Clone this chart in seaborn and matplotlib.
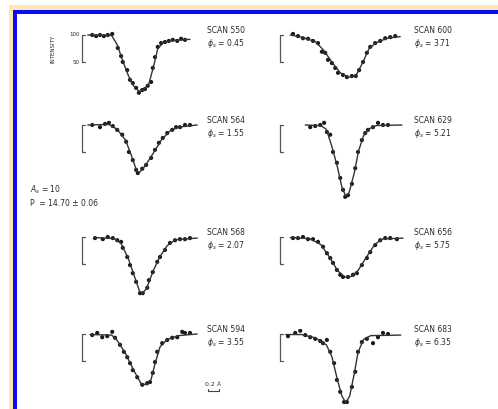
import matplotlib
matplotlib.use("Agg")
import matplotlib.pyplot as plt
from matplotlib.patches import Rectangle
import pandas as pd
import seaborn as sns

# Scan data: wavelength offset (A) and relative intensity
x_550 = [0.40, 0.47, 0.54, 0.61, 0.68, 0.76, 0.86, 0.92, 0.95, 1.03, 1.08, 1.13, 1.19, 1.24,
         1.30, 1.35, 1.40, 1.46, 1.49, 1.53, 1.58, 1.64, 1.71, 1.78, 1.85, 1.93, 2.00, 2.07]
y_550 = [100, 98, 100, 98, 100, 102, 76, 61, 50, 35, 17, 11, 2, -7,
         -2, 0, 6, 13, 39, 59, 78, 85, 87, 89, 91, 89, 93, 91]
fitx_550 = [0.32, 0.75, 0.85, 0.95, 1.05, 1.15, 1.24, 1.32, 1.42, 1.50, 1.58, 1.68, 1.85, 2.16]
fity_550 = [100, 99, 82, 52, 25, 5, -4, -2, 10, 40, 75, 86, 90, 92]

x_564 = [0.40, 0.54, 0.63, 0.70, 0.77, 0.85, 0.94, 1.01, 1.06, 1.13, 1.19, 1.22, 1.30, 1.37,
         1.46, 1.53, 1.60, 1.67, 1.75, 1.84, 1.91, 1.98, 2.07, 2.16]
y_564 = [100, 96, 102, 104, 98, 91, 82, 69, 50, 35, 17, 11, 19, 26,
         39, 54, 67, 76, 85, 91, 96, 96, 100, 100]
fitx_564 = [0.32, 0.70, 0.85, 1.00, 1.10, 1.20, 1.25, 1.35, 1.50, 1.65, 1.80, 1.95, 2.29]
fity_564 = [100, 101, 92, 72, 45, 15, 12, 24, 48, 73, 89, 96, 100]

x_568 = [0.45, 0.59, 0.68, 0.77, 0.85, 0.92, 0.95, 1.03, 1.08, 1.13, 1.19, 1.26, 1.31, 1.39,
         1.42, 1.49, 1.57, 1.62, 1.71, 1.80, 1.89, 1.98, 2.07, 2.16]
y_568 = [98, 96, 100, 98, 94, 91, 80, 63, 48, 33, 17, -4, -4, 6,
         20, 35, 54, 63, 76, 89, 94, 96, 96, 98]
fitx_568 = [0.45, 0.80, 0.92, 1.05, 1.15, 1.25, 1.30, 1.38, 1.50, 1.62, 1.75, 1.90, 2.29]
fity_568 = [99, 97, 88, 60, 30, 0, -5, 5, 38, 64, 84, 95, 98]

x_594 = [0.40, 0.49, 0.58, 0.67, 0.76, 0.81, 0.90, 0.97, 1.03, 1.08, 1.13, 1.21, 1.30, 1.39,
         1.44, 1.49, 1.53, 1.57, 1.66, 1.75, 1.84, 1.93, 2.02, 2.07, 2.16]
y_594 = [98, 102, 94, 96, 104, 93, 80, 67, 57, 46, 33, 20, 6, 9,
         11, 28, 48, 67, 83, 89, 93, 94, 104, 102, 102]
fitx_594 = [0.36, 0.75, 0.85, 1.00, 1.15, 1.28, 1.38, 1.46, 1.53, 1.62, 1.75, 1.95, 2.29]
fity_594 = [99, 98, 88, 64, 32, 8, 6, 16, 45, 76, 90, 97, 100]

x_600 = [0.45, 0.54, 0.63, 0.72, 0.81, 0.90, 0.97, 1.03, 1.08, 1.15, 1.21, 1.26, 1.35, 1.42,
         1.51, 1.58, 1.64, 1.71, 1.78, 1.84, 1.93, 2.02, 2.11, 2.20, 2.29]
y_600 = [102, 98, 94, 93, 89, 85, 69, 67, 54, 48, 39, 30, 26, 22,
         24, 24, 35, 50, 67, 78, 85, 89, 94, 96, 98]
fitx_600 = [0.40, 0.60, 0.85, 1.00, 1.15, 1.30, 1.45, 1.58, 1.70, 1.82, 1.95, 2.15, 2.38]
fity_600 = [100, 96, 88, 72, 50, 30, 22, 24, 48, 75, 86, 94, 97]

x_629 = [0.76, 0.85, 0.94, 1.01, 1.06, 1.12, 1.17, 1.24, 1.30, 1.35, 1.39, 1.44, 1.51, 1.57,
         1.62, 1.69, 1.75, 1.80, 1.89, 1.98, 2.07, 2.16]
y_629 = [96, 98, 100, 104, 87, 82, 50, 30, 2, -20, -33, -30, -9, 20,
         50, 72, 85, 91, 96, 104, 100, 100]
fitx_629 = [0.67, 0.95, 1.05, 1.15, 1.25, 1.33, 1.40, 1.46, 1.55, 1.63, 1.72, 1.82, 1.95, 2.41]
fity_629 = [100, 99, 92, 60, 22, -15, -32, -25, 10, 52, 80, 93, 99, 100]

x_656 = [0.45, 0.54, 0.63, 0.72, 0.81, 0.90, 0.99, 1.06, 1.12, 1.17, 1.24, 1.30, 1.35, 1.44,
         1.53, 1.60, 1.69, 1.78, 1.84, 1.93, 2.02, 2.11, 2.20, 2.32]
y_656 = [98, 98, 100, 96, 96, 91, 82, 70, 61, 52, 39, 30, 26, 26,
         30, 33, 48, 61, 72, 85, 94, 98, 98, 96]
fitx_656 = [0.40, 0.75, 0.95, 1.10, 1.25, 1.38, 1.50, 1.62, 1.78, 1.92, 2.05, 2.43]
fity_656 = [99, 97, 86, 64, 38, 26, 27, 38, 64, 86, 96, 98]

x_683 = [0.36, 0.49, 0.58, 0.67, 0.76, 0.85, 0.94, 0.99, 1.06, 1.12, 1.19, 1.24, 1.30, 1.37,
         1.42, 1.51, 1.57, 1.62, 1.69, 1.78, 1.89, 1.98, 2.07, 2.16]
y_683 = [96, 102, 106, 98, 94, 91, 87, 83, 89, 67, 46, 15, -7, -26,
         -26, 2, 30, 67, 85, 91, 83, 94, 102, 100]
fitx_683 = [0.32, 0.60, 0.85, 1.05, 1.15, 1.25, 1.33, 1.40, 1.47, 1.55, 1.62, 1.72, 1.85, 2.39]
fity_683 = [99, 99, 93, 80, 58, 15, -15, -27, -15, 25, 66, 90, 97, 98]

scans = ["550", "564", "568", "594", "600", "629", "656", "683"]
phases = ["0.45", "1.55", "2.07", "3.55", "3.71", "5.21", "5.75", "6.35"]

sns.set_style("white")
plt.rcParams["font.family"] = ["DejaVu Sans"]

W, H = 498, 409
fig = plt.figure(figsize=(W / 100, H / 100), dpi=100)
fig.patch.set_facecolor("white")

# page frame: cream edge, blue rule, white sheet
for x0, y0, c in [(9, 5, "#fce7b6"), (13, 10, "#0c0cf2"), (17, 14, "white")]:
    fig.patches.append(Rectangle((x0 / W, 0), 1, (H - y0) / H, transform=fig.transFigure,
                                 facecolor=c, edgecolor="none", zorder=-10))

panels = [
    (x_550, y_550, fitx_550, fity_550),
    (x_564, y_564, fitx_564, fity_564),
    (x_568, y_568, fitx_568, fity_568),
    (x_594, y_594, fitx_594, fity_594),
    (x_600, y_600, fitx_600, fity_600),
    (x_629, y_629, fitx_629, fity_629),
    (x_656, y_656, fitx_656, fity_656),
    (x_683, y_683, fitx_683, fity_683),
]

row_base = [35, 125, 237, 334]   # pixel row of the 100% level
col_left = [70, 268]
ink = "#1a1a1a"
txt = "#2a2a2a"
axes = []
for i, (xs, ys, fx, fy) in enumerate(panels):
    col, row = divmod(i, 4)
    top = row_base[row] - 5.4
    ax = fig.add_axes([col_left[col] / W, (H - top - 81) / H, 200 / W, 81 / H])
    ax.set_xlim(0, 3.6)
    ax.set_ylim(-40, 110)
    ax.axis("off")
    ax.patch.set_visible(False)

    pts = pd.DataFrame({"x": xs, "y": ys})
    fit = pd.DataFrame({"x": fx, "y": fy})
    sns.lineplot(data=fit, x="x", y="y", ax=ax, color="#333333", lw=1.0, sort=False)
    sns.scatterplot(data=pts, x="x", y="y", ax=ax, color=ink, s=9, edgecolor="none")

    # intensity scale bar (100 -> 50)
    ax.plot([0.27, 0.22, 0.22, 0.27], [100, 100, 50, 50], color="#555555", lw=0.9)

    tx = 2.47 if col == 0 else 2.63
    ax.text(tx, 108, "SCAN " + scans[i], fontsize=5.5, color=txt, va="center")
    ax.text(tx, 85, r"$\phi_s$ = " + phases[i], fontsize=5.5, color=txt, va="center")
    axes.append(ax)

# axis annotations on the first panel
a0 = axes[0]
a0.text(0.17, 100, "100", fontsize=4, color=txt, ha="right", va="center")
a0.text(0.17, 50, "50", fontsize=4, color=txt, ha="right", va="center")
a0.text(-0.31, 75, "INTENSITY", fontsize=4, color=txt, rotation=90,
        ha="center", va="center")

# wavelength scale bar on SCAN 594
a3 = axes[3]
a3.plot([2.48, 2.48, 2.68, 2.68], [-2, -5, -5, -2], color="#444444", lw=0.8)
a3.text(2.58, 1, "0.2 Å", fontsize=4.5, color=txt, ha="center", va="bottom")

fig.text(30 / W, 1 - 190 / H, r"$A_s$ = 10", fontsize=5.5, color=txt, va="center")
fig.text(30 / W, 1 - 203 / H, "P  = 14.70 ± 0.06", fontsize=5.5, color=txt, va="center")

fig.savefig("out.png", dpi=100)
